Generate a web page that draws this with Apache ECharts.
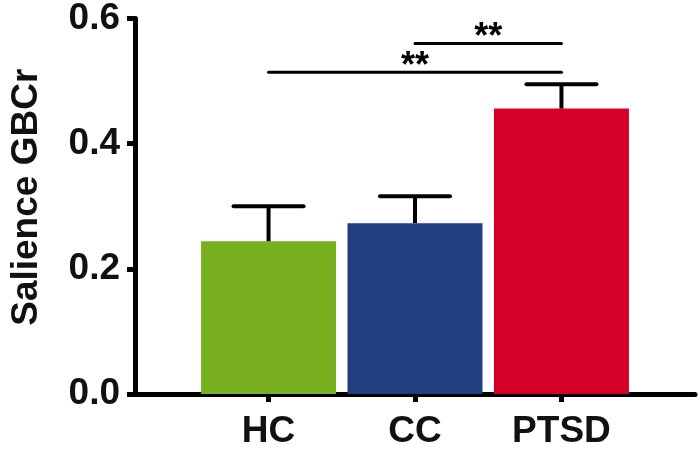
<!DOCTYPE html>
<html>
<head>
<meta charset="utf-8">
<script src="https://cdn.jsdelivr.net/npm/echarts@6/dist/echarts.min.js"></script>
<style>
  html, body { margin: 0; padding: 0; background: #fff; }
  #chart { width: 700px; height: 450px; }
</style>
</head>
<body>
<div id="chart"></div>
<script>
// groups and their mean / upper error values
const groups = ["HC", "CC", "PTSD"];
const means = [0.244, 0.273, 0.456];
const upper = [0.300, 0.316, 0.495];
const colors = ["#78B020", "#233E80", "#D50028"];

// significance brackets: from group, to group, height, text
const sigFrom = [0, 1];
const sigTo = [2, 2];
const sigY = [0.514, 0.560];
const sigText = ["**", "**"];

const FONT = "'Liberation Sans', Arial, Helvetica, sans-serif";
const positions = groups.map((g, i) => i);

const chart = echarts.init(document.getElementById("chart"));

chart.setOption({
    backgroundColor: "#fff",
    animation: false,
    grid: {
        left: 128,
        right: 5,
        top: 17,
        bottom: 53,
    },
    xAxis: {
        type: "value",
        min: -0.912,
        max: 2.912,
        splitLine: { show: false },
        axisLine: {
            show: true,
            onZero: false,
            lineStyle: { color: "#000", width: 5 },
        },
        axisTick: {
            show: true,
            customValues: positions,
            length: 8,
            lineStyle: { color: "#000", width: 5 },
        },
        axisLabel: {
            customValues: positions,
            formatter: (v) => groups[Math.round(v)],
            margin: 19,
            color: "#111",
            fontSize: 37,
            fontWeight: "bold",
            fontFamily: FONT,
        },
    },
    yAxis: {
        type: "value",
        min: 0,
        max: 0.6,
        interval: 0.2,
        name: "Salience GBCr",
        nameLocation: "middle",
        nameGap: 90,
        nameTextStyle: {
            color: "#111",
            fontSize: 37,
            fontWeight: "bold",
            fontFamily: FONT,
            padding: [0, 0, 0, 18],
        },
        splitLine: { show: false },
        axisLine: {
            show: true,
            onZero: false,
            lineStyle: { color: "#000", width: 5 },
        },
        axisTick: {
            show: true,
            length: 8,
            lineStyle: { color: "#000", width: 5 },
        },
        axisLabel: {
            formatter: (v) => v.toFixed(1),
            margin: 15,
            color: "#111",
            fontSize: 37,
            fontWeight: "bold",
            fontFamily: FONT,
        },
    },
    series: [
        {
            type: "bar",
            barWidth: 135,
            data: positions.map((p, i) => ({
                value: [p, means[i]],
                itemStyle: { color: colors[i] },
            })),
        },
        {
            // error bars (upper only)
            type: "custom",
            clip: false,
            data: positions.map((p, i) => [p, means[i], upper[i]]),
            renderItem: function (params, api) {
                const base = api.coord([api.value(0), api.value(1)]);
                const top = api.coord([api.value(0), api.value(2)]);
                return {
                    type: "group",
                    children: [
                        {
                            type: "line",
                            shape: { x1: base[0], y1: base[1], x2: top[0], y2: top[1] },
                            style: { stroke: "#000", lineWidth: 4 },
                        },
                        {
                            type: "line",
                            shape: { x1: top[0] - 35, y1: top[1], x2: top[0] + 35, y2: top[1] },
                            style: { stroke: "#000", lineWidth: 4, lineCap: "round" },
                        },
                    ],
                };
            },
            z: 3,
        },
        {
            // significance brackets
            type: "custom",
            clip: false,
            data: sigY.map((y, i) => [sigFrom[i], sigTo[i], y]),
            renderItem: function (params, api) {
                const a = api.coord([api.value(0), api.value(2)]);
                const b = api.coord([api.value(1), api.value(2)]);
                return {
                    type: "group",
                    children: [
                        {
                            type: "line",
                            shape: { x1: a[0], y1: a[1], x2: b[0], y2: b[1] },
                            style: { stroke: "#000", lineWidth: 3, lineCap: "round" },
                        },
                        {
                            type: "text",
                            x: (a[0] + b[0]) / 2,
                            y: a[1] - 5,
                            style: {
                                text: sigText[params.dataIndex],
                                fill: "#000",
                                fontSize: 36,
                                fontWeight: "bold",
                                fontFamily: FONT,
                                align: "center",
                                verticalAlign: "middle",
                            },
                        },
                    ],
                };
            },
            z: 3,
        },
    ],
});
</script>
</body>
</html>
